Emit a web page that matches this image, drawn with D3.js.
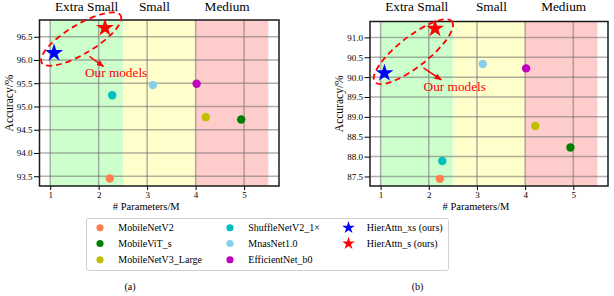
<!DOCTYPE html>
<html>
<head>
<meta charset="utf-8">
<script src="https://cdn.jsdelivr.net/npm/d3@7"></script>
<style>
    body { margin: 0; background: #fff; }
    text { font-family: "Liberation Serif", "DejaVu Serif", serif; }
</style>
</head>
<body>
<div id="svgcontainer"></div>
<script>
// Daten
var modelle = ["MobileNetV2", "MobileViT_s", "MobileNetV3_Large", "ShuffleNetV2_1×", "MnasNet1.0", "EfficientNet_b0", "HierAttn_xs (ours)", "HierAttn_s (ours)"];
var parameter = [2.23, 4.94, 4.21, 2.28, 3.12, 4.02, 1.08, 2.13];
var genauigkeitA = [93.45, 94.72, 94.77, 95.24, 95.46, 95.49, 96.15, 96.69];
var genauigkeitB = [87.44, 88.23, 88.77, 87.89, 90.33, 90.22, 90.10, 91.22];
var farben = ["#ff7f50", "#008000", "#bfbf00", "#00bfbf", "#87ceeb", "#bf00bf", "#0000ff", "#ff0000"];
var formen = ["circle", "circle", "circle", "circle", "circle", "circle", "star", "star"];

var bereiche = ["Extra Small", "Small", "Medium"];
var bereichGrenzen = [1, 2.5, 4, 5.5];
var bereichFarben = ["#ccffcc", "#ffffcc", "#ffcccc"];

var xTicks = [1, 2, 3, 4, 5];
var yTicksA = [93.5, 94.0, 94.5, 95.0, 95.5, 96.0, 96.5];
var yTicksB = [87.5, 88.0, 88.5, 89.0, 89.5, 90.0, 90.5, 91.0];

var width = 614;
var height = 296;

var svg = d3.select("#svgcontainer")
    .append("svg")
    .attr("width", width)
    .attr("height", height);

// Pfeilspitze
svg.append("defs").append("marker")
    .attr("id", "pfeil")
    .attr("viewBox", "0 0 10 10")
    .attr("refX", 9).attr("refY", 5)
    .attr("markerWidth", 5).attr("markerHeight", 5)
    .attr("orient", "auto")
    .append("path")
    .attr("d", "M0,1 L10,5 L0,9 z")
    .attr("fill", "#ff0000");

function zeichnePlot(cfg) {
    var x = d3.scaleLinear().domain([0.78, 5.72]).range([cfg.links, cfg.rechts]);
    var y = d3.scaleLinear().domain(cfg.yDomain).range([cfg.unten, cfg.oben]);
    var g = svg.append("g");

    // farbige Bereiche
    for (var i = 0; i < bereiche.length; i++) {
        g.append("rect")
            .attr("x", x(bereichGrenzen[i]))
            .attr("y", cfg.oben)
            .attr("width", x(bereichGrenzen[i + 1]) - x(bereichGrenzen[i]))
            .attr("height", cfg.unten - cfg.oben)
            .attr("fill", bereichFarben[i]);
        g.append("text")
            .attr("x", x(cfg.labelX[i]))
            .attr("y", 11)
            .attr("text-anchor", "middle")
            .style("font-size", "13.3px")
            .text(bereiche[i]);
    }

    // Gitter
    g.selectAll(".gx").data(xTicks).enter().append("line")
        .attr("x1", d => x(d)).attr("x2", d => x(d))
        .attr("y1", cfg.oben).attr("y2", cfg.unten)
        .style("stroke", "#707070").style("stroke-opacity", 0.55).style("stroke-width", 1.5);
    g.selectAll(".gy").data(cfg.yTicks).enter().append("line")
        .attr("x1", cfg.links).attr("x2", cfg.rechts)
        .attr("y1", d => y(d)).attr("y2", d => y(d))
        .style("stroke", "#707070").style("stroke-opacity", 0.55).style("stroke-width", 1.5);

    // Achsen
    var xAchse = g.append("g")
        .attr("transform", "translate(0," + cfg.unten + ")")
        .call(d3.axisBottom(x).tickValues(xTicks).tickSize(4).tickPadding(1.5).tickFormat(d3.format("d")));
    var yAchse = g.append("g")
        .attr("transform", "translate(" + cfg.links + ",0)")
        .call(d3.axisLeft(y).tickValues(cfg.yTicks).tickSize(5.5).tickPadding(1.5).tickFormat(d3.format(".1f")));
    [xAchse, yAchse].forEach(function (a) {
        a.select(".domain").remove();
        a.selectAll("text").style("font-family", "Liberation Serif").style("font-size", "9px").attr("fill", "#000");
        a.selectAll("line").attr("stroke", "#000").style("stroke-width", 1);
    });

    // Rahmen
    g.append("rect")
        .attr("x", cfg.links).attr("y", cfg.oben)
        .attr("width", cfg.rechts - cfg.links).attr("height", cfg.unten - cfg.oben)
        .attr("fill", "none").style("stroke", "#1a1a1a").style("stroke-width", 1.5);

    // Punkte
    for (var k = 0; k < modelle.length; k++) {
        var sym = formen[k] == "star" ? d3.symbol().type(d3.symbolStar).size(100) : d3.symbol().type(d3.symbolCircle).size(56);
        g.append("path")
            .attr("d", sym())
            .attr("transform", "translate(" + x(parameter[k]) + "," + y(cfg.werte[k]) + ")")
            .attr("fill", farben[k]);
    }

    // Ellipse, Pfeil, Text
    var a = cfg.anno;
    g.append("ellipse")
        .attr("cx", 0).attr("cy", 0).attr("rx", a.rx).attr("ry", a.ry)
        .attr("transform", "translate(" + x(a.cx) + "," + y(a.cy) + ") rotate(" + a.winkel + ")")
        .attr("fill", "none").style("stroke", "#ff0000").style("stroke-width", 1.8)
        .style("stroke-dasharray", "6,4");
    g.append("line")
        .attr("x1", x(a.p1[0])).attr("y1", y(a.p1[1]))
        .attr("x2", x(a.p2[0])).attr("y2", y(a.p2[1]))
        .style("stroke", "#ff0000").style("stroke-width", 1.5)
        .attr("marker-end", "url(#pfeil)");
    g.append("text")
        .attr("x", x(a.tx)).attr("y", y(a.ty))
        .attr("text-anchor", "middle")
        .attr("fill", "#ff0000")
        .style("font-size", "13.3px")
        .text("Our models");

    // Achsenbeschriftung
    g.append("text")
        .attr("x", (x(1) + x(5.5)) / 2 - 13).attr("y", 210)
        .attr("text-anchor", "middle")
        .style("font-size", "10.5px")
        .text("# Parameters/M");
    g.append("text")
        .attr("transform", "translate(" + cfg.yLabelX + "," + ((cfg.oben + cfg.unten) / 2) + ") rotate(-90)")
        .attr("text-anchor", "middle")
        .attr("dy", "0.35em")
        .style("font-size", "11.5px")
        .text("Accuracy/%");
    g.append("text")
        .attr("x", cfg.subX).attr("y", 290)
        .attr("text-anchor", "middle")
        .style("font-size", "10px")
        .text(cfg.sub);
}

zeichnePlot({
    links: 39.5, rechts: 279, oben: 20, unten: 186,
    yDomain: [93.29, 96.86], yTicks: yTicksA, werte: genauigkeitA,
    labelX: [1.75, 3.15, 4.65], yLabelX: 9, subX: 130, sub: "(a)",
    anno: { cx: 1.64, cy: 96.45, rx: 46, ry: 14.5, winkel: -31, p1: [1.81, 96.08], p2: [2.10, 95.86], tx: 2.36, ty: 95.64 }
});
zeichnePlot({
    links: 370, rechts: 608, oben: 21.5, unten: 186,
    yDomain: [87.26, 91.4], yTicks: yTicksB, werte: genauigkeitB,
    labelX: [1.75, 3.3, 4.8], yLabelX: 339, subX: 417.5, sub: "(b)",
    anno: { cx: 1.68, cy: 90.64, rx: 49, ry: 15, winkel: -38, p1: [1.89, 90.23], p2: [2.26, 89.93], tx: 2.54, ty: 89.64 }
});

// Legende
var legende = svg.append("g");
legende.append("rect")
    .attr("x", 86.5).attr("y", 218.5).attr("width", 362).attr("height", 52)
    .attr("rx", 2)
    .attr("fill", "#fff").style("stroke", "#d0d0d0").style("stroke-width", 1);
var spaltenX = [100, 230, 348.5];
var zeilenY = [227.7, 243.5, 259.8];
for (var k = 0; k < modelle.length; k++) {
    var sp = Math.floor(k / 3);
    var ze = k % 3;
    var sym = formen[k] == "star" ? d3.symbol().type(d3.symbolStar).size(50) : d3.symbol().type(d3.symbolCircle).size(40);
    legende.append("path")
        .attr("d", sym())
        .attr("transform", "translate(" + spaltenX[sp] + "," + zeilenY[ze] + ")")
        .attr("fill", farben[k]);
    legende.append("text")
        .attr("x", spaltenX[sp] + 18.3).attr("y", zeilenY[ze])
        .attr("dy", "0.35em")
        .style("font-size", "10px")
        .text(modelle[k]);
}
</script>
</body>
</html>
